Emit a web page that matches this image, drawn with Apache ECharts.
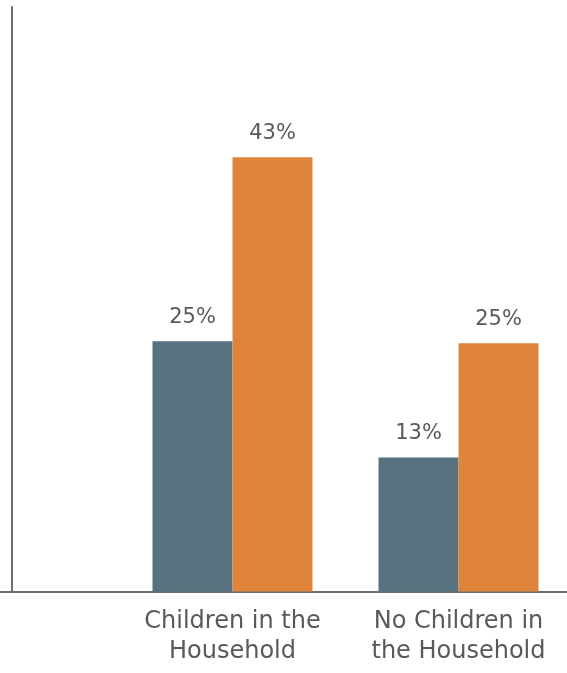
<!DOCTYPE html>
<html>
<head>
<meta charset="utf-8">
<script src="https://cdn.jsdelivr.net/npm/echarts@6/dist/echarts.min.js"></script>
<style>
html,body{margin:0;padding:0;background:#fff;}
#chart{width:567px;height:673px;}
</style>
</head>
<body>
<div id="chart"></div>
<script>
var categories = ['', 'Children in the\nHousehold', 'No Children in\nthe Household'];
var seriesA = [null, 25.0, 13.4];
var seriesB = [null, 43.4, 24.8];
var colorA = '#57717F';
var colorB = '#DE853B';

var chart = echarts.init(document.getElementById('chart'), null, {renderer: 'canvas'});
var labelStyle = {
  show: true,
  position: 'top',
  distance: 13,
  fontFamily: 'DejaVu Sans',
  fontSize: 21,
  color: '#595959',
  formatter: function (p) { return Math.round(p.value) + '%'; }
};
chart.setOption({
  animation: false,
  grid: {left: -106.5, width: 678, top: 7, bottom: 81.5, containLabel: false, outerBoundsMode: 'none'},
  xAxis: {
    type: 'category',
    data: categories,
    axisLine: {show: true, lineStyle: {color: '#6e6e6e', width: 2}},
    axisTick: {show: false},
    axisLabel: {
      interval: 0,
      margin: 15,
      fontFamily: 'DejaVu Sans',
      fontSize: 24,
      lineHeight: 30,
      color: '#595959',
      align: 'center'
    }
  },
  yAxis: {
    type: 'value',
    min: 0,
    max: 58.4,
    offset: -118.5,
    axisLine: {show: true, onZero: false, lineStyle: {color: '#6e6e6e', width: 2}},
    axisTick: {show: false},
    axisLabel: {show: false},
    splitLine: {show: false}
  },
  series: [
    {type: 'bar', data: seriesA, barWidth: 80, barGap: '0%', itemStyle: {color: colorA}, label: labelStyle},
    {type: 'bar', data: seriesB, barWidth: 80, barGap: '0%', itemStyle: {color: colorB}, label: labelStyle}
  ]
});
</script>
</body>
</html>
